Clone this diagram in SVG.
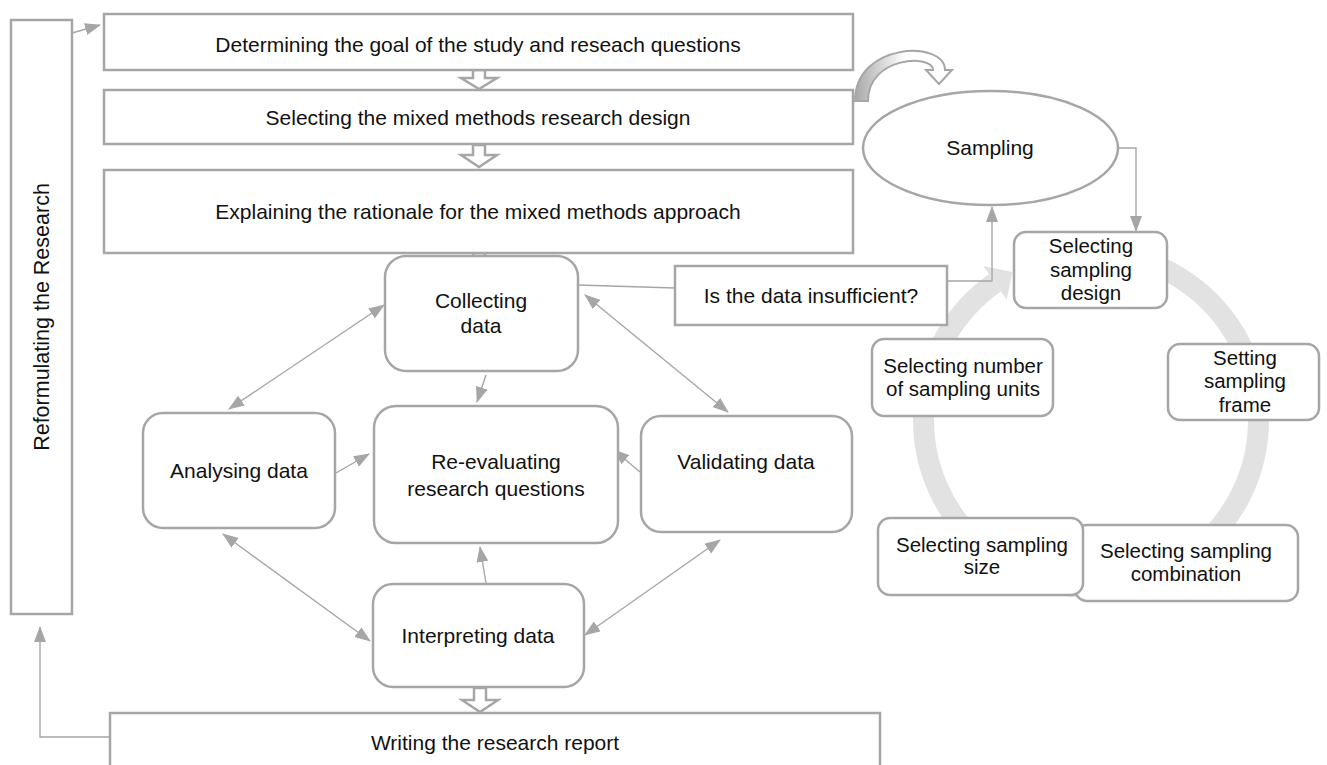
<svg xmlns="http://www.w3.org/2000/svg" width="1327" height="765" viewBox="0 0 1327 765">
<defs>
<style>
.box{fill:#fff;stroke:#a6a6a6;stroke-width:2.5}
.t{font-family:"Liberation Sans",Arial,sans-serif;font-size:20.5px;fill:#111;text-anchor:middle}
.m{font-size:21px}
.ln{fill:none;stroke:#a6a6a6;stroke-width:1.4}
.hol{fill:#fff;stroke:#a6a6a6;stroke-width:2.5;stroke-linejoin:miter}
</style>
<marker id="ah" markerUnits="userSpaceOnUse" markerWidth="16" markerHeight="12" refX="15" refY="6" orient="auto-start-reverse" viewBox="0 0 16 12">
<path d="M0,0 L16,6 L0,12 z" fill="#a6a6a6"/>
</marker>
<linearGradient id="cg" x1="855" y1="0" x2="905" y2="0" gradientUnits="userSpaceOnUse">
<stop offset="0" stop-color="#a8a8a8"/>
<stop offset="1" stop-color="#ffffff"/>
</linearGradient>
</defs>
<rect width="1327" height="765" fill="#fff"/>

<!-- cycle ring -->
<g id="cycle-ring">
<path d="M1120.1,255 A167.5,167.5 0 1 1 994.9,282.8" fill="none" stroke="#e2e2e2" stroke-width="21"/>
<polygon points="983.2,266 1012.4,272.1 1006.7,299.6" fill="#e2e2e2"/>
</g>

<!-- connectors -->
<g id="connectors">
<line class="ln" x1="72" y1="33" x2="100" y2="25" marker-end="url(#ah)"/>
<polyline class="ln" points="110,737 40,737 40,627" marker-end="url(#ah)"/>
<line class="ln" x1="486" y1="375" x2="477" y2="402" marker-end="url(#ah)"/>
<line class="ln" x1="384" y1="305" x2="229" y2="409" marker-start="url(#ah)" marker-end="url(#ah)"/>
<line class="ln" x1="336" y1="473" x2="369" y2="454" marker-end="url(#ah)"/>
<line class="ln" x1="640" y1="472" x2="614" y2="450" marker-end="url(#ah)"/>
<line class="ln" x1="585" y1="295" x2="728" y2="412" stroke-width="2.2" marker-start="url(#ah)" marker-end="url(#ah)"/>
<line class="ln" x1="486" y1="583" x2="480" y2="547" marker-end="url(#ah)"/>
<line class="ln" x1="223" y1="534" x2="370" y2="641" marker-start="url(#ah)" marker-end="url(#ah)"/>
<line class="ln" x1="720" y1="540" x2="585" y2="635" marker-start="url(#ah)" marker-end="url(#ah)"/>
<line class="ln" x1="578" y1="285" x2="675" y2="288"/>
<polyline class="ln" points="947,281 992,281 992,207" marker-end="url(#ah)"/>
<polyline class="ln" points="1119,148 1136,148 1136,231" marker-end="url(#ah)"/>
<polygon class="hol" points="473,70 485,70 485,78 497,78 479,89 461,78 473,78"/>
<polygon class="hol" points="473,145 485,145 485,155 497,155 479,167 461,155 473,155"/>
<polygon class="hol" points="473,253 485,253 485,263 497,263 479,276 461,263 473,263"/>
<polygon class="hol" points="474,688 486,688 486,700 498,700 480,712 462,700 474,700"/>
<path d="M855,101 C855,42 945,40 945,70 L952,70 L939,84 L926,70 L933,70 C933,54 868,56 868,101 Z" fill="url(#cg)" stroke="#a6a6a6" stroke-width="2"/>
</g>

<g id="reformulating">
<rect class="box" x="11" y="20" width="61" height="594"/>
<text class="t" transform="translate(49,317) rotate(-90)" style="font-size:21.5px">Reformulating the Research</text>
</g>
<g id="goal">
<rect class="box" x="104" y="14" width="749" height="56"/>
<text class="t m" x="478" y="52">Determining the goal of the study and reseach questions</text>
</g>
<g id="design">
<rect class="box" x="104" y="90" width="749" height="54"/>
<text class="t m" x="478" y="125">Selecting the mixed methods research design</text>
</g>
<g id="rationale">
<rect class="box" x="104" y="170" width="749" height="83"/>
<text class="t m" x="478" y="219">Explaining the rationale for the mixed methods approach</text>
</g>
<g id="collecting">
<rect class="box" x="385" y="256" width="193" height="115" rx="21"/>
<text class="t m" x="481" y="308">Collecting</text>
<text class="t m" x="481" y="333">data</text>
</g>
<g id="analysing">
<rect class="box" x="143" y="413" width="192" height="115" rx="20"/>
<text class="t m" x="239" y="478">Analysing data</text>
</g>
<g id="reevaluating">
<rect class="box" x="374" y="406" width="244" height="137" rx="22"/>
<text class="t m" x="496" y="469">Re-evaluating</text>
<text class="t m" x="496" y="496">research questions</text>
</g>
<g id="validating">
<rect class="box" x="641" y="416" width="211" height="116" rx="20"/>
<text class="t m" x="746" y="469">Validating data</text>
</g>
<g id="interpreting">
<rect class="box" x="373" y="584" width="211" height="103" rx="20"/>
<text class="t m" x="478" y="643">Interpreting data</text>
</g>
<g id="writing">
<rect class="box" x="110" y="713" width="770" height="70"/>
<text class="t m" x="495" y="750">Writing the research report</text>
</g>
<g id="insufficient">
<rect class="box" x="675" y="266" width="272" height="59"/>
<text class="t m" x="811" y="303">Is the data insufficient?</text>
</g>
<g id="sampling">
<ellipse class="box" cx="990.5" cy="148" rx="127.5" ry="57"/>
<text class="t m" x="990" y="155">Sampling</text>
</g>
<g id="sampling-design">
<rect class="box" x="1014" y="232" width="153" height="76" rx="12"/>
<text class="t" x="1091" y="253">Selecting</text>
<text class="t" x="1091" y="277">sampling</text>
<text class="t" x="1091" y="300">design</text>
</g>
<g id="sampling-frame">
<rect class="box" x="1168" y="344" width="151" height="76" rx="12"/>
<text class="t" x="1245" y="365">Setting</text>
<text class="t" x="1245" y="388">sampling</text>
<text class="t" x="1245" y="412">frame</text>
</g>
<g id="sampling-units">
<rect class="box" x="872" y="339" width="181" height="77" rx="12"/>
<text class="t" x="963" y="373">Selecting number</text>
<text class="t" x="963" y="396">of sampling units</text>
</g>
<g id="sampling-combination">
<rect class="box" x="1075" y="525" width="223" height="76" rx="12"/>
<text class="t" x="1186" y="558">Selecting sampling</text>
<text class="t" x="1186" y="581">combination</text>
</g>
<g id="sampling-size">
<rect class="box" x="878" y="518" width="205" height="77" rx="12"/>
<text class="t" x="982" y="552">Selecting sampling</text>
<text class="t" x="982" y="574">size</text>
</g>
</svg>
